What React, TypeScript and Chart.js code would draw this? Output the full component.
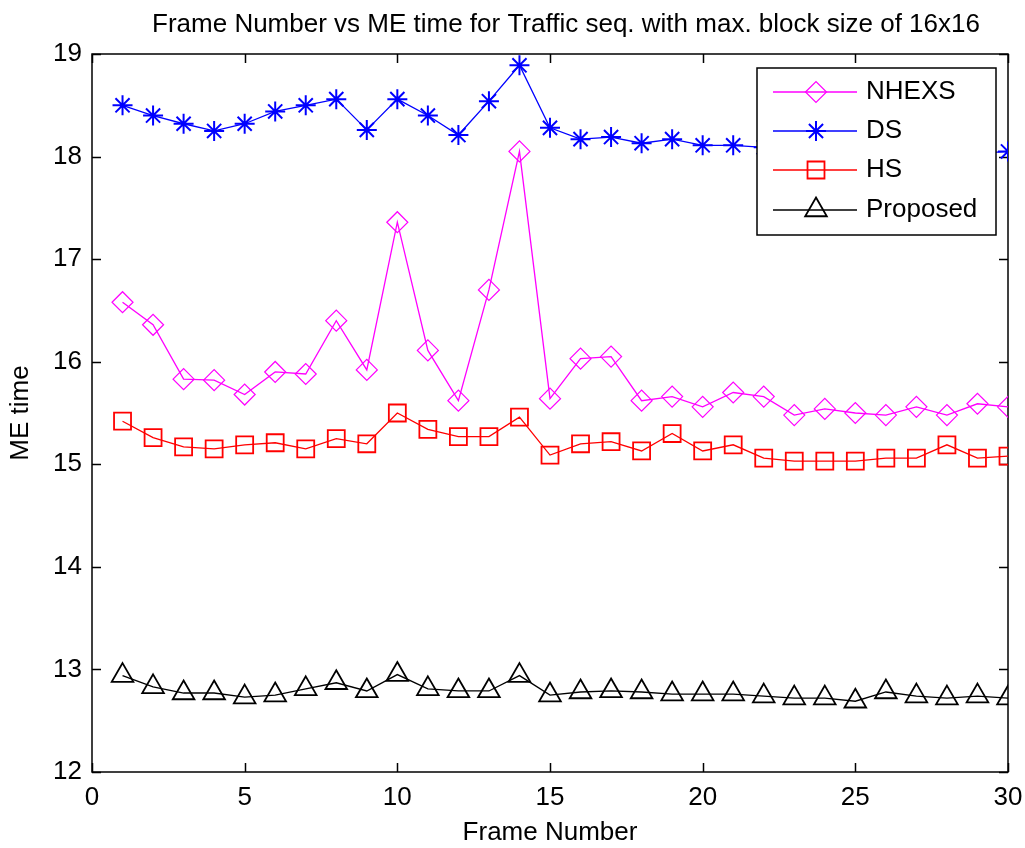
import React, { useEffect, useRef } from 'react';
import { Chart, registerables } from 'chart.js';
import { drawPoint } from 'chart.js/helpers';

Chart.register(...registerables);

const frames = [1, 2, 3, 4, 5, 6, 7, 8, 9, 10, 11, 12, 13, 14, 15, 16, 17, 18, 19, 20, 21, 22, 23, 24, 25, 26, 27, 28, 29, 30];
const nhexs = [16.58, 16.36, 15.83, 15.82, 15.68, 15.9, 15.88, 16.4, 15.92, 17.36, 16.11, 15.62, 16.7, 18.05, 15.64, 16.03, 16.05, 15.62, 15.66, 15.56, 15.7, 15.66, 15.48, 15.54, 15.5, 15.48, 15.56, 15.48, 15.59, 15.56];
const ds = [18.5, 18.4, 18.32, 18.25, 18.32, 18.44, 18.5, 18.56, 18.26, 18.56, 18.4, 18.21, 18.54, 18.89, 18.28, 18.17, 18.19, 18.13, 18.17, 18.11, 18.11, 18.09, 18.08, 18.08, 18.07, 18.07, 18.06, 18.05, 18.03, 18.05];
const hs = [15.42, 15.26, 15.17, 15.15, 15.19, 15.21, 15.15, 15.25, 15.2, 15.5, 15.34, 15.27, 15.27, 15.46, 15.09, 15.2, 15.22, 15.13, 15.3, 15.13, 15.19, 15.06, 15.03, 15.03, 15.03, 15.06, 15.06, 15.19, 15.06, 15.08];
const proposed = [12.94, 12.83, 12.77, 12.77, 12.73, 12.75, 12.81, 12.87, 12.79, 12.95, 12.81, 12.79, 12.79, 12.94, 12.75, 12.78, 12.79, 12.78, 12.76, 12.76, 12.76, 12.74, 12.72, 12.72, 12.69, 12.78, 12.74, 12.72, 12.74, 12.72];

const seriesNames = ['NHEXS', 'DS', 'HS', 'Proposed'];
const seriesColors = ['#ff00ff', '#0000ff', '#ff0000', '#000000'];
const titleText = 'Frame Number vs ME time for Traffic seq. with max. block size of 16x16';
const xLabel = 'Frame Number';
const yLabel = 'ME time';
const xMin = 0;
const xMax = 30;
const xStep = 5;
const yMin = 12;
const yMax = 19;
const yStep = 1;

const FONT = '"Liberation Sans", Arial, Helvetica, sans-serif';
const FS = 26;

const toPoints = (vals: number[]) => frames.map((f, i) => ({ x: f, y: vals[i] }));

const framePlugin = {
  id: 'matlabFrame',
  beforeDatasetsDraw(chart: any) {
    const { ctx, chartArea: a, scales } = chart;
    const xs = scales.x;
    const ys = scales.y;
    ctx.save();
    ctx.strokeStyle = '#000';
    ctx.lineWidth = 1.5;
    ctx.strokeRect(a.left, a.top, a.right - a.left, a.bottom - a.top);
    ctx.beginPath();
    const tl = 9;
    xs.ticks.forEach((t: any) => {
      const px = Math.round(xs.getPixelForValue(t.value)) + 0.5;
      ctx.moveTo(px, a.bottom);
      ctx.lineTo(px, a.bottom - tl);
      ctx.moveTo(px, a.top);
      ctx.lineTo(px, a.top + tl);
    });
    ys.ticks.forEach((t: any) => {
      const py = Math.round(ys.getPixelForValue(t.value)) + 0.5;
      ctx.moveTo(a.left, py);
      ctx.lineTo(a.left + tl, py);
      ctx.moveTo(a.right, py);
      ctx.lineTo(a.right - tl, py);
    });
    ctx.stroke();
    ctx.restore();
  },
  afterDraw(chart: any) {
    const { ctx } = chart;
    ctx.save();
    // title
    ctx.fillStyle = '#000';
    ctx.font = `${FS}px ${FONT}`;
    ctx.textAlign = 'center';
    ctx.textBaseline = 'alphabetic';
    ctx.fillText(titleText, 566, 32);

    // legend box
    const bx = 757;
    const by = 68;
    const bw = 239;
    const bh = 167;
    ctx.fillStyle = '#fff';
    ctx.fillRect(bx, by, bw, bh);
    ctx.strokeStyle = '#000';
    ctx.lineWidth = 1.5;
    ctx.strokeRect(bx, by, bw, bh);
    const rows = [92, 131, 170, 210];
    chart.data.datasets.forEach((ds: any, i: number) => {
      const yy = rows[i];
      ctx.strokeStyle = ds.borderColor;
      ctx.lineWidth = ds.borderWidth;
      ctx.beginPath();
      ctx.moveTo(773, yy);
      ctx.lineTo(857, yy);
      ctx.stroke();
      ctx.strokeStyle = ds.pointBorderColor;
      ctx.fillStyle = 'rgba(0,0,0,0)';
      ctx.lineWidth = ds.pointBorderWidth;
      drawPoint(ctx, { pointStyle: ds.pointStyle, rotation: 0, radius: ds.pointRadius, borderWidth: ds.pointBorderWidth } as any, 816, yy);
      ctx.fillStyle = '#000';
      ctx.font = `${FS}px ${FONT}`;
      ctx.textAlign = 'left';
      ctx.textBaseline = 'middle';
      ctx.fillText(ds.label, 866, yy);
    });
    ctx.restore();
  },
};

export default function App() {
  const ref = useRef<HTMLCanvasElement | null>(null);

  useEffect(() => {
    document.body.style.margin = '0';
    const canvas = ref.current;
    if (!canvas) return;
    const styles = [
      { pointStyle: 'rectRot', pointRadius: 10.5, pointBorderWidth: 1.2 },
      { pointStyle: 'star', pointRadius: 10, pointBorderWidth: 2 },
      { pointStyle: 'rect', pointRadius: 12, pointBorderWidth: 1.8 },
      { pointStyle: 'triangle', pointRadius: 12.5, pointBorderWidth: 1.8 },
    ];
    const seriesData = [nhexs, ds, hs, proposed];
    const chart = new Chart(canvas, {
      type: 'line',
      data: {
        datasets: seriesData.map((vals, i) => ({
          label: seriesNames[i],
          data: toPoints(vals),
          borderColor: seriesColors[i],
          backgroundColor: seriesColors[i],
          borderWidth: 1.3,
          pointBorderColor: seriesColors[i],
          pointBackgroundColor: 'rgba(0,0,0,0)',
          pointHoverRadius: styles[i].pointRadius,
          tension: 0,
          fill: false,
          ...styles[i],
        })),
      },
      options: {
        responsive: false,
        animation: false,
        devicePixelRatio: 1,
        layout: { padding: { top: 54, right: 17, left: 0, bottom: 0 } },
        plugins: {
          legend: { display: false },
          title: { display: false },
          tooltip: { enabled: false },
        },
        events: [],
        scales: {
          x: {
            type: 'linear',
            min: xMin,
            max: xMax,
            grid: { display: false, drawTicks: false },
            border: { display: false },
            ticks: {
              stepSize: xStep,
              color: '#000',
              padding: 10,
              font: { family: FONT, size: FS },
              maxRotation: 0,
            },
            title: {
              display: true,
              text: xLabel,
              color: '#000',
              font: { family: FONT, size: FS },
              padding: { top: 0, bottom: 0 },
            },
            afterFit: (scale: any) => {
              scale.height = 76;
              scale.paddingLeft = 0;
              scale.paddingRight = 0;
            },
          },
          y: {
            type: 'linear',
            min: yMin,
            max: yMax,
            grid: { display: false, drawTicks: false },
            border: { display: false },
            ticks: {
              stepSize: yStep,
              color: '#000',
              padding: 10,
              font: { family: FONT, size: FS },
            },
            title: {
              display: true,
              text: yLabel,
              color: '#000',
              font: { family: FONT, size: FS },
              padding: { top: 5, bottom: 0 },
            },
            afterFit: (scale: any) => {
              scale.width = 92;
              scale.paddingTop = 0;
              scale.paddingBottom = 0;
            },
          },
        },
      },
      plugins: [framePlugin],
    } as any);
    return () => chart.destroy();
  }, []);

  return (
    <div style={{ width: 1025, height: 848, background: '#fff' }}>
      <canvas ref={ref} width={1025} height={848} style={{ display: 'block' }} />
    </div>
  );
}
